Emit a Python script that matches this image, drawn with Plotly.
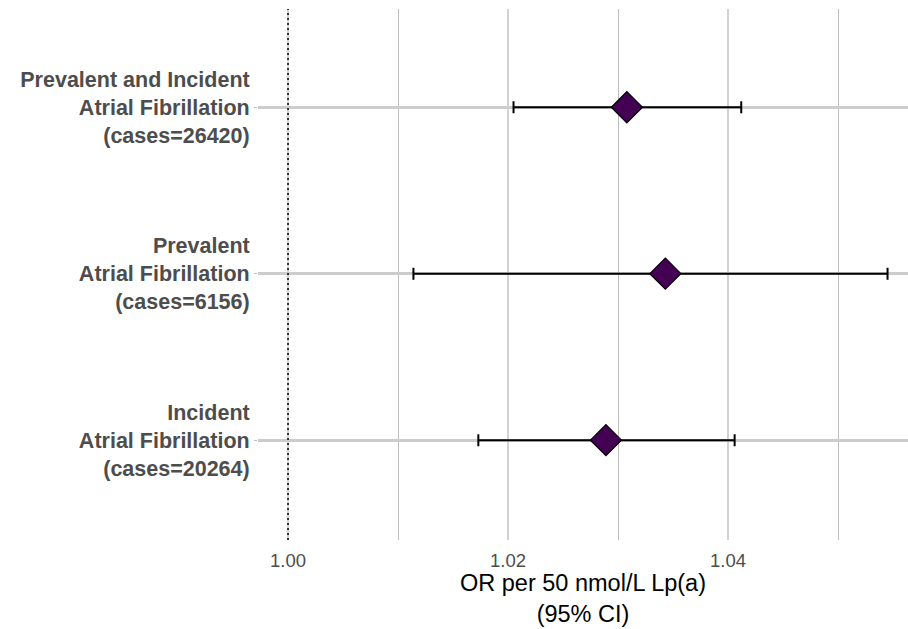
import plotly.graph_objects as go

categories = [
    "<b>Incident<br>Atrial Fibrillation<br>(cases=20264)</b>",
    "<b>Prevalent<br>Atrial Fibrillation<br>(cases=6156)</b>",
    "<b>Prevalent and Incident<br>Atrial Fibrillation<br>(cases=26420)</b>",
]
or_est = [1.0289, 1.0343, 1.0308]
ci_low = [1.0173, 1.0114, 1.0205]
ci_high = [1.0406, 1.0545, 1.0412]

err_plus = [h - e for h, e in zip(ci_high, or_est)]
err_minus = [e - l for e, l in zip(or_est, ci_low)]

fig = go.Figure()
fig.add_trace(go.Scatter(
    x=or_est, y=categories, mode="markers",
    marker=dict(symbol="diamond", size=24, color="#440154",
                line=dict(color="black", width=1.2)),
    error_x=dict(type="data", symmetric=False, array=err_plus, arrayminus=err_minus,
                 color="black", thickness=2, width=6),
    showlegend=False,
))

fig.add_vline(x=1.0, line=dict(color="black", width=1.5, dash="2px,3px"), layer="above")

fig.update_layout(
    width=908, height=629,
    margin=dict(l=258, r=0, t=9, b=89),
    plot_bgcolor="white", paper_bgcolor="white",
    font=dict(family="Liberation Sans, Arial, sans-serif"),
    xaxis=dict(
        range=[0.99727, 1.05636],
        tickvals=[1.00, 1.02, 1.04], ticktext=["1.00", "1.02", "1.04"],
        showgrid=True, gridcolor="#d2d2d2", gridwidth=2.2,
        minor=dict(tickvals=[1.01, 1.03, 1.05], showgrid=True, gridcolor="#bdbdbd", gridwidth=1.1),
        zeroline=False, showline=False, ticks="",
        tickfont=dict(size=18.5, color="#4d4d4d"),
        ticklabelstandoff=7,
        title=dict(text="OR per 50 nmol/L Lp(a)<br>(95% CI)", font=dict(size=23.5, color="black"), standoff=5),
    ),
    yaxis=dict(
        type="category", categoryorder="array", categoryarray=categories,
        range=[-0.6, 2.59],
        showgrid=True, gridcolor="#cccccc", gridwidth=2.5,
        zeroline=False, showline=False,
        ticks="outside", ticklen=3, tickcolor="#bdbdbd",
        tickfont=dict(size=21.5, color="#4d4d4d"),
    ),
)

fig.write_html("out.html")
